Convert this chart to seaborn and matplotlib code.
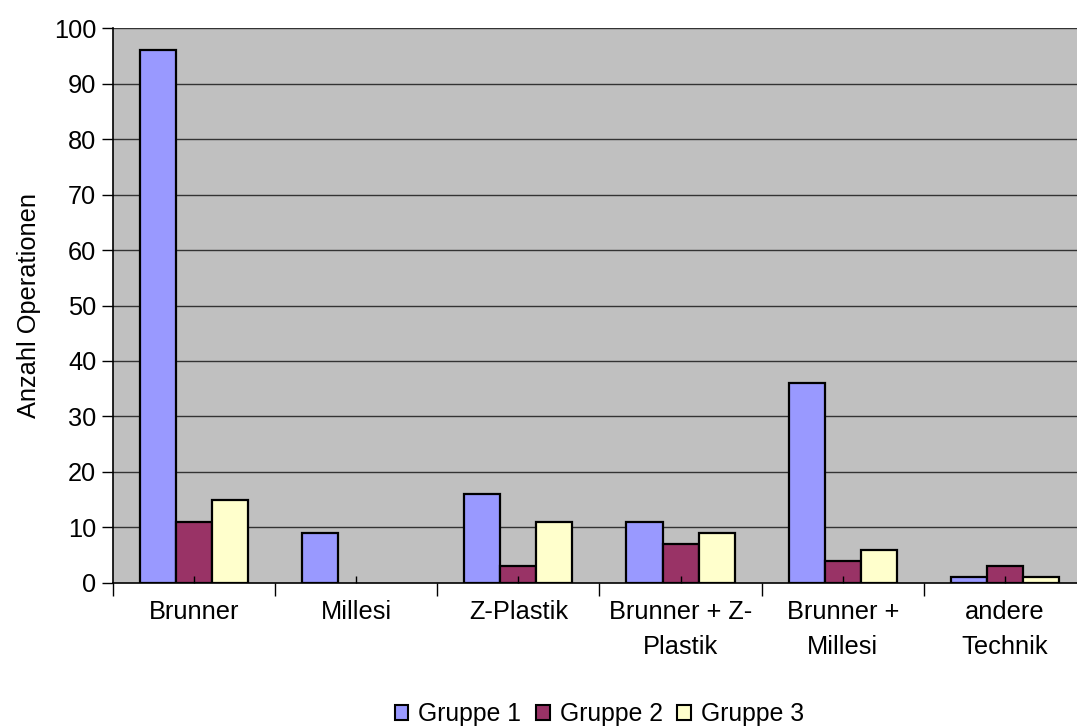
import matplotlib
matplotlib.use("Agg")
import matplotlib.pyplot as plt
from matplotlib.patches import Patch
from matplotlib.ticker import FixedLocator
import seaborn as sns
import pandas as pd

# Operation counts per technique and group
categories = ["Brunner", "Millesi", "Z-Plastik", "Brunner + Z-\nPlastik",
              "Brunner +\nMillesi", "andere\nTechnik"]
groups = ["Gruppe 1", "Gruppe 2", "Gruppe 3"]
gruppe1 = [96, 9, 16, 11, 36, 1]
gruppe2 = [11, 0, 3, 7, 4, 3]
gruppe3 = [15, 0, 11, 9, 6, 1]
colors = ["#9999FF", "#993366", "#FFFFCC"]
y_ticks = list(range(0, 101, 10))

rows = []
for g, vals in zip(groups, [gruppe1, gruppe2, gruppe3]):
    for c, v in zip(categories, vals):
        rows.append({"Technik": c, "Gruppe": g, "Anzahl": v})
df = pd.DataFrame(rows)

sns.set_theme(style="white")
plt.rcParams["font.family"] = ["Liberation Sans", "DejaVu Sans"]
for key in ["text.color", "axes.labelcolor", "xtick.color", "ytick.color"]:
    plt.rcParams[key] = "black"

fs = 18.3

fig = plt.figure(figsize=(10.77, 7.26), dpi=100)
# plot area runs slightly past the right edge of the canvas
ax = fig.add_axes([0.1049, 0.197, 0.9034, 0.7644])
ax.set_facecolor("#C0C0C0")

sns.barplot(data=df, x="Technik", y="Anzahl", hue="Gruppe", order=categories,
            hue_order=groups, palette=colors, saturation=1, width=0.667,
            edgecolor="black", linewidth=1.6, ax=ax, legend=False,
            errorbar=None, zorder=2)

# drop zero-height bars so empty slots stay empty
for p in ax.patches:
    if p.get_height() == 0:
        p.set_visible(False)

ax.set_ylim(0, 100)
ax.set_xlim(-0.5, len(categories) - 0.5)
ax.set_yticks(y_ticks)
for y in y_ticks[1:]:
    ax.axhline(y, color="#333333", linewidth=1.0, zorder=1)
ax.set_axisbelow(False)

for s in ["top", "right"]:
    ax.spines[s].set_visible(False)
for s in ["left", "bottom"]:
    ax.spines[s].set_color("black")
    ax.spines[s].set_linewidth(1.2)

ax.tick_params(axis="y", direction="out", length=8, width=1.0, color="black",
               labelsize=fs, pad=4, left=True)
# category boundaries as outward major ticks, centres as short inner ticks
ax.set_xticks([i - 0.5 for i in range(len(categories) + 1)])
ax.set_xticklabels([])
ax.xaxis.set_minor_locator(FixedLocator(range(len(categories))))
ax.set_xticklabels(categories, minor=True, fontsize=fs, linespacing=1.6)
ax.tick_params(axis="x", which="major", direction="out", length=9, width=1.0,
               color="black", bottom=True)
ax.tick_params(axis="x", which="minor", direction="in", length=5, width=1.0,
               color="black", bottom=True, pad=12)

ax.set_xlabel("")
ax.set_ylabel("Anzahl Operationen", fontsize=fs, labelpad=9)

handles = [Patch(facecolor=c, edgecolor="black", linewidth=1.5, label=g)
           for c, g in zip(colors, groups)]
ax_box = ax.get_position()
fig.legend(handles=handles, loc="center",
           bbox_to_anchor=((ax_box.x0 + ax_box.x1) / 2, 0.0165), ncol=3,
           frameon=False, fontsize=17.8, handlelength=0.55, handleheight=0.55,
           handletextpad=0.4, columnspacing=0.6, borderaxespad=0, borderpad=0)

fig.savefig("out.png", dpi=100)
